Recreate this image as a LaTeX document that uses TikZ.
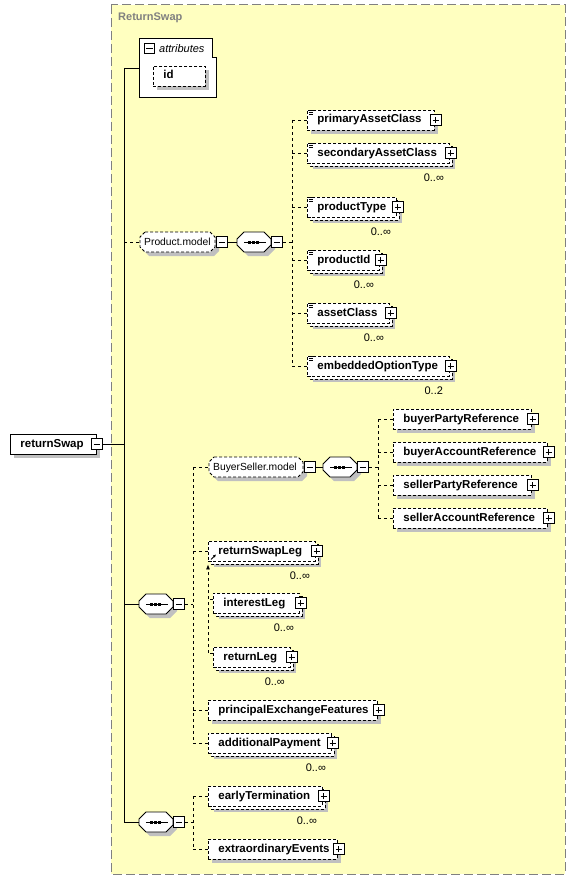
\documentclass[tikz,border=0pt]{standalone}
\usepackage{fontspec}
\setmainfont{Liberation Sans}
\usetikzlibrary{arrows.meta}
\definecolor{bgyellow}{HTML}{FFFFC0}
\definecolor{shadowc}{HTML}{C0C0C0}
\definecolor{framegray}{HTML}{808080}
\tikzset{
  dsh/.style={dash pattern=on 3pt off 2pt},
  elem/.style={draw, dsh, fill=white, line width=0.8pt, anchor=west, minimum height=20pt, inner xsep=10pt, inner ysep=0pt, text height=8.5pt, text depth=2.5pt, font=\fontsize{11.5}{13}\selectfont\bfseries},
  selem/.style={elem, solid},
  back/.style={draw, dsh, fill=white, line width=0.8pt},
  shad/.style={fill=shadowc},
  pbox/.style={draw, solid, fill=white, line width=0.9pt, minimum size=10.5pt, inner sep=0pt,
    path picture={\draw[line width=0.8pt] ([xshift=2pt]path picture bounding box.west) -- ([xshift=-2pt]path picture bounding box.east) ([yshift=2pt]path picture bounding box.south) -- ([yshift=-2pt]path picture bounding box.north);}},
  mbox/.style={draw, solid, fill=white, line width=0.9pt, minimum size=10.5pt, inner sep=0pt,
    path picture={\draw[line width=0.8pt] ([xshift=2pt]path picture bounding box.west) -- ([xshift=-2pt]path picture bounding box.east);}},
  conn/.style={line width=0.8pt},
  dconn/.style={conn, dash pattern=on 3pt off 3pt},
  mult/.style={font=\fontsize{11}{13}\selectfont, inner sep=0pt},
  grp/.style={anchor=west, minimum height=20pt, inner xsep=4pt, inner ysep=0pt, text height=8.5pt, text depth=2.5pt, font=\fontsize{10.3}{12}\selectfont},
  seqn/.style={anchor=west, minimum height=20pt, minimum width=34pt, inner sep=0pt},
  outerbox/.style={fill=bgyellow, draw=framegray, line width=1pt, dash pattern=on 9pt off 4pt},
  titlet/.style={anchor=west, inner sep=0pt, text=framegray, font=\fontsize{11}{13}\selectfont\bfseries},
}
\newcommand\ElemS[6][]{%
  \fill[shad] ({#3+4},{#4-6}) rectangle ({#3+#5+4},{#4+14});
  \node[elem,#1] (#2) at (#3,#4) {\makebox[\dimexpr#5pt-20pt\relax][l]{#6}};
  \node[pbox] (#2-p) at ([xshift=1pt]#2.east) {};
}
\newcommand\ElemM[7][]{%
  \fill[shad] ({#3+6},{#4-4}) rectangle ({#3+#5+6},{#4+16});
  \draw[back] ({#3+3},{#4-7}) rectangle ({#3+#5+3},{#4+13});
  \node[elem,#1] (#2) at (#3,#4) {\makebox[\dimexpr#5pt-20pt\relax][l]{#6}};
  \node[pbox] (#2-p) at ([xshift=1pt]#2.east) {};
  \node[mult] (#2-n) at ([xshift=-16pt,yshift=-14pt]#2.south east) {#7};
}
\newcommand\octa[5]{\path[#1] ({#2+#5},{#3-10}) -- ({#2+#4-#5},{#3-10}) -- ({#2+#4},{#3-10+#5}) -- ({#2+#4},{#3+10-#5}) -- ({#2+#4-#5},{#3+10}) -- ({#2+#5},{#3+10}) -- (#2,{#3+10-#5}) -- (#2,{#3-10+#5}) -- cycle;}
\newcommand\Grp[5]{%
  \octa{shad, shift={(4,4)}}{#2}{#3}{#4}{5}
  \octa{draw, dsh, fill=white, line width=0.8pt}{#2}{#3}{#4}{5}
  \node[grp] (#1) at (#2,#3) {\makebox[\dimexpr#4pt-8pt\relax][l]{#5}};
  \node[mbox, anchor=west] (#1-m) at ([xshift=1pt]#1.east) {};
}
\newcommand\Seq[3]{%
  \octa{shad, shift={(4,4)}}{#2}{#3}{34}{7}
  \octa{draw, fill=white, line width=0.8pt}{#2}{#3}{34}{7}
  \node[seqn] (#1) at (#2,#3) {};
  \draw[line width=0.8pt] ([xshift=7pt]#1.west) -- ([xshift=29pt]#1.west);
  \foreach \d in {12,16,20} \fill ([xshift=\d pt]#1.west) +(-1.5pt,-1.5pt) rectangle +(1.5pt,1.5pt);
  \node[mbox, anchor=west] (#1-m) at (#1.east) {};
}
\newcommand\Eq[1]{\foreach \k in {1,3,5} \draw[line width=0.6pt] ([xshift=2pt,yshift=-\k pt]#1.north west) -- ++(4pt,0pt);}
\begin{document}
\begin{tikzpicture}[x=1pt,y=-1pt]
\useasboundingbox (0,0) rectangle (576,880);
\draw[outerbox] (111,5) rectangle (565,874);
\node[titlet] (title) at (118,18) {ReturnSwap};
% root
\fill[shad] (14,438) rectangle (100,458);
\node[selem] (root) at (10,444) {\makebox[66pt][l]{returnSwap}};
\node[mbox] (root-m) at (root.east) {};
% attributes
\draw[line width=0.8pt, fill=white] (139,38) -- (212,38) -- (212,57) -- (216,57) -- (216,97) -- (139,97) -- cycle;
\node[anchor=north west, minimum width=77pt, minimum height=59pt, inner sep=0pt] (attr) at (139,38) {};
\node[mbox] (attr-m) at (149.5,48.5) {};
\node[anchor=west, inner sep=0pt, font=\fontsize{11}{13}\selectfont\itshape] (attr-t) at (159,48.5) {attributes};
\fill[shad] (157,70) rectangle (209,90);
\node[elem] (id) at (153,76) {\makebox[32pt][l]{id}};
% Product.model
\Grp{pm}{140}{242}{75}{Product.model}
\Seq{pseq}{237}{242}
\ElemS{c1}{307}{120}{127}{primaryAssetClass}
\ElemM{c2}{307}{153}{142}{secondaryAssetClass}{0..∞}
\ElemM{c3}{307}{207}{89}{productType}{0..∞}
\ElemM{c4}{307}{260}{72}{productId}{0..∞}
\ElemM{c5}{307}{313}{82}{assetClass}{0..∞}
\ElemM{c6}{307}{366}{142}{embeddedOptionType}{0..2}
\foreach \n in {c1,c2,c3,c4,c5,c6} {\Eq{\n}}
% BuyerSeller.model
\Grp{bsm}{209}{467}{94}{BuyerSeller.model}
\Seq{bsseq}{323}{467}
\ElemS{b1}{393}{419}{138}{buyerPartyReference}
\ElemS{b2}{393}{452}{154}{buyerAccountReference}
\ElemS{b3}{393}{485}{138}{sellerPartyReference}
\ElemS{b4}{393}{518}{154}{sellerAccountReference}
% middle sequence
\Seq{mseq}{139}{604}
\ElemM{rsl}{208}{551}{107}{returnSwapLeg}{0..∞}
\ElemM{il}{213}{603}{86}{interestLeg}{0..∞}
\ElemM{rl}{213}{657}{77}{returnLeg}{0..∞}
\ElemS{pef}{208}{710}{169}{principalExchangeFeatures}
\ElemM{ap}{208}{743}{123}{additionalPayment}{0..∞}
\draw[line width=0.9pt, -{Latex[length=3pt,width=3pt]}] ([xshift=3pt,yshift=2pt]rsl.south west) -- ++(5pt,5pt);
% end sequence
\Seq{eseq}{139}{822}
\ElemM{et}{208}{796}{114}{earlyTermination}{0..∞}
\ElemS{ee}{208}{849}{129}{extraordinaryEvents}
% connectors
\coordinate (trunk) at (124,68);
\draw[conn] (root-m.east) -- (root-m.east -| trunk);
\draw[conn] (trunk) -- (trunk |- eseq.west);
\draw[conn] (trunk) -- (attr.west |- trunk);
\draw[dconn] (trunk |- pm.west) -- (pm.west);
\draw[conn] (trunk |- mseq.west) -- (mseq.west);
\draw[conn] (trunk |- eseq.west) -- (eseq.west);
\coordinate (pv) at (292,242);
\draw[conn] (pm-m.east) -- (pseq.west);
\draw[dconn] (pseq-m.east) -- (pv);
\draw[dconn] (pv |- c1.west) -- (pv |- c6.west);
\foreach \n in {c1,c2,c3,c4,c5,c6} \draw[dconn] (pv |- \n.west) -- (\n.west);
\coordinate (bv) at (378,467);
\draw[conn] (bsm-m.east) -- (bsseq.west);
\draw[dconn] (bsseq-m.east) -- (bv);
\draw[dconn] (bv |- b1.west) -- (bv |- b4.west);
\foreach \n in {b1,b2,b3,b4} \draw[dconn] (bv |- \n.west) -- (\n.west);
\coordinate (mv) at (193,604);
\draw[dconn] (mseq-m.east) -- (mv);
\draw[dconn] (mv |- bsm.west) -- (mv |- ap.west);
\foreach \n in {bsm,rsl,pef,ap} \draw[dconn] (mv |- \n.west) -- (\n.west);
\draw[dconn] ([yshift=4pt]il.west) -- ([yshift=4pt]il.west -| rsl.west);
\draw[dconn] ([yshift=4pt]rl.west) -- ([yshift=4pt]rl.west -| rsl.west);
\draw[dconn, -{Latex[length=5pt,width=4pt]}] ([yshift=4pt]rl.west -| rsl.west) -- ([yshift=-3pt]rsl.south west);
\coordinate (ev) at (193,822);
\draw[dconn] (eseq-m.east) -- (ev);
\draw[dconn] (ev |- et.west) -- (ev |- ee.west);
\foreach \n in {et,ee} \draw[dconn] (ev |- \n.west) -- (\n.west);
\end{tikzpicture}
\end{document}
